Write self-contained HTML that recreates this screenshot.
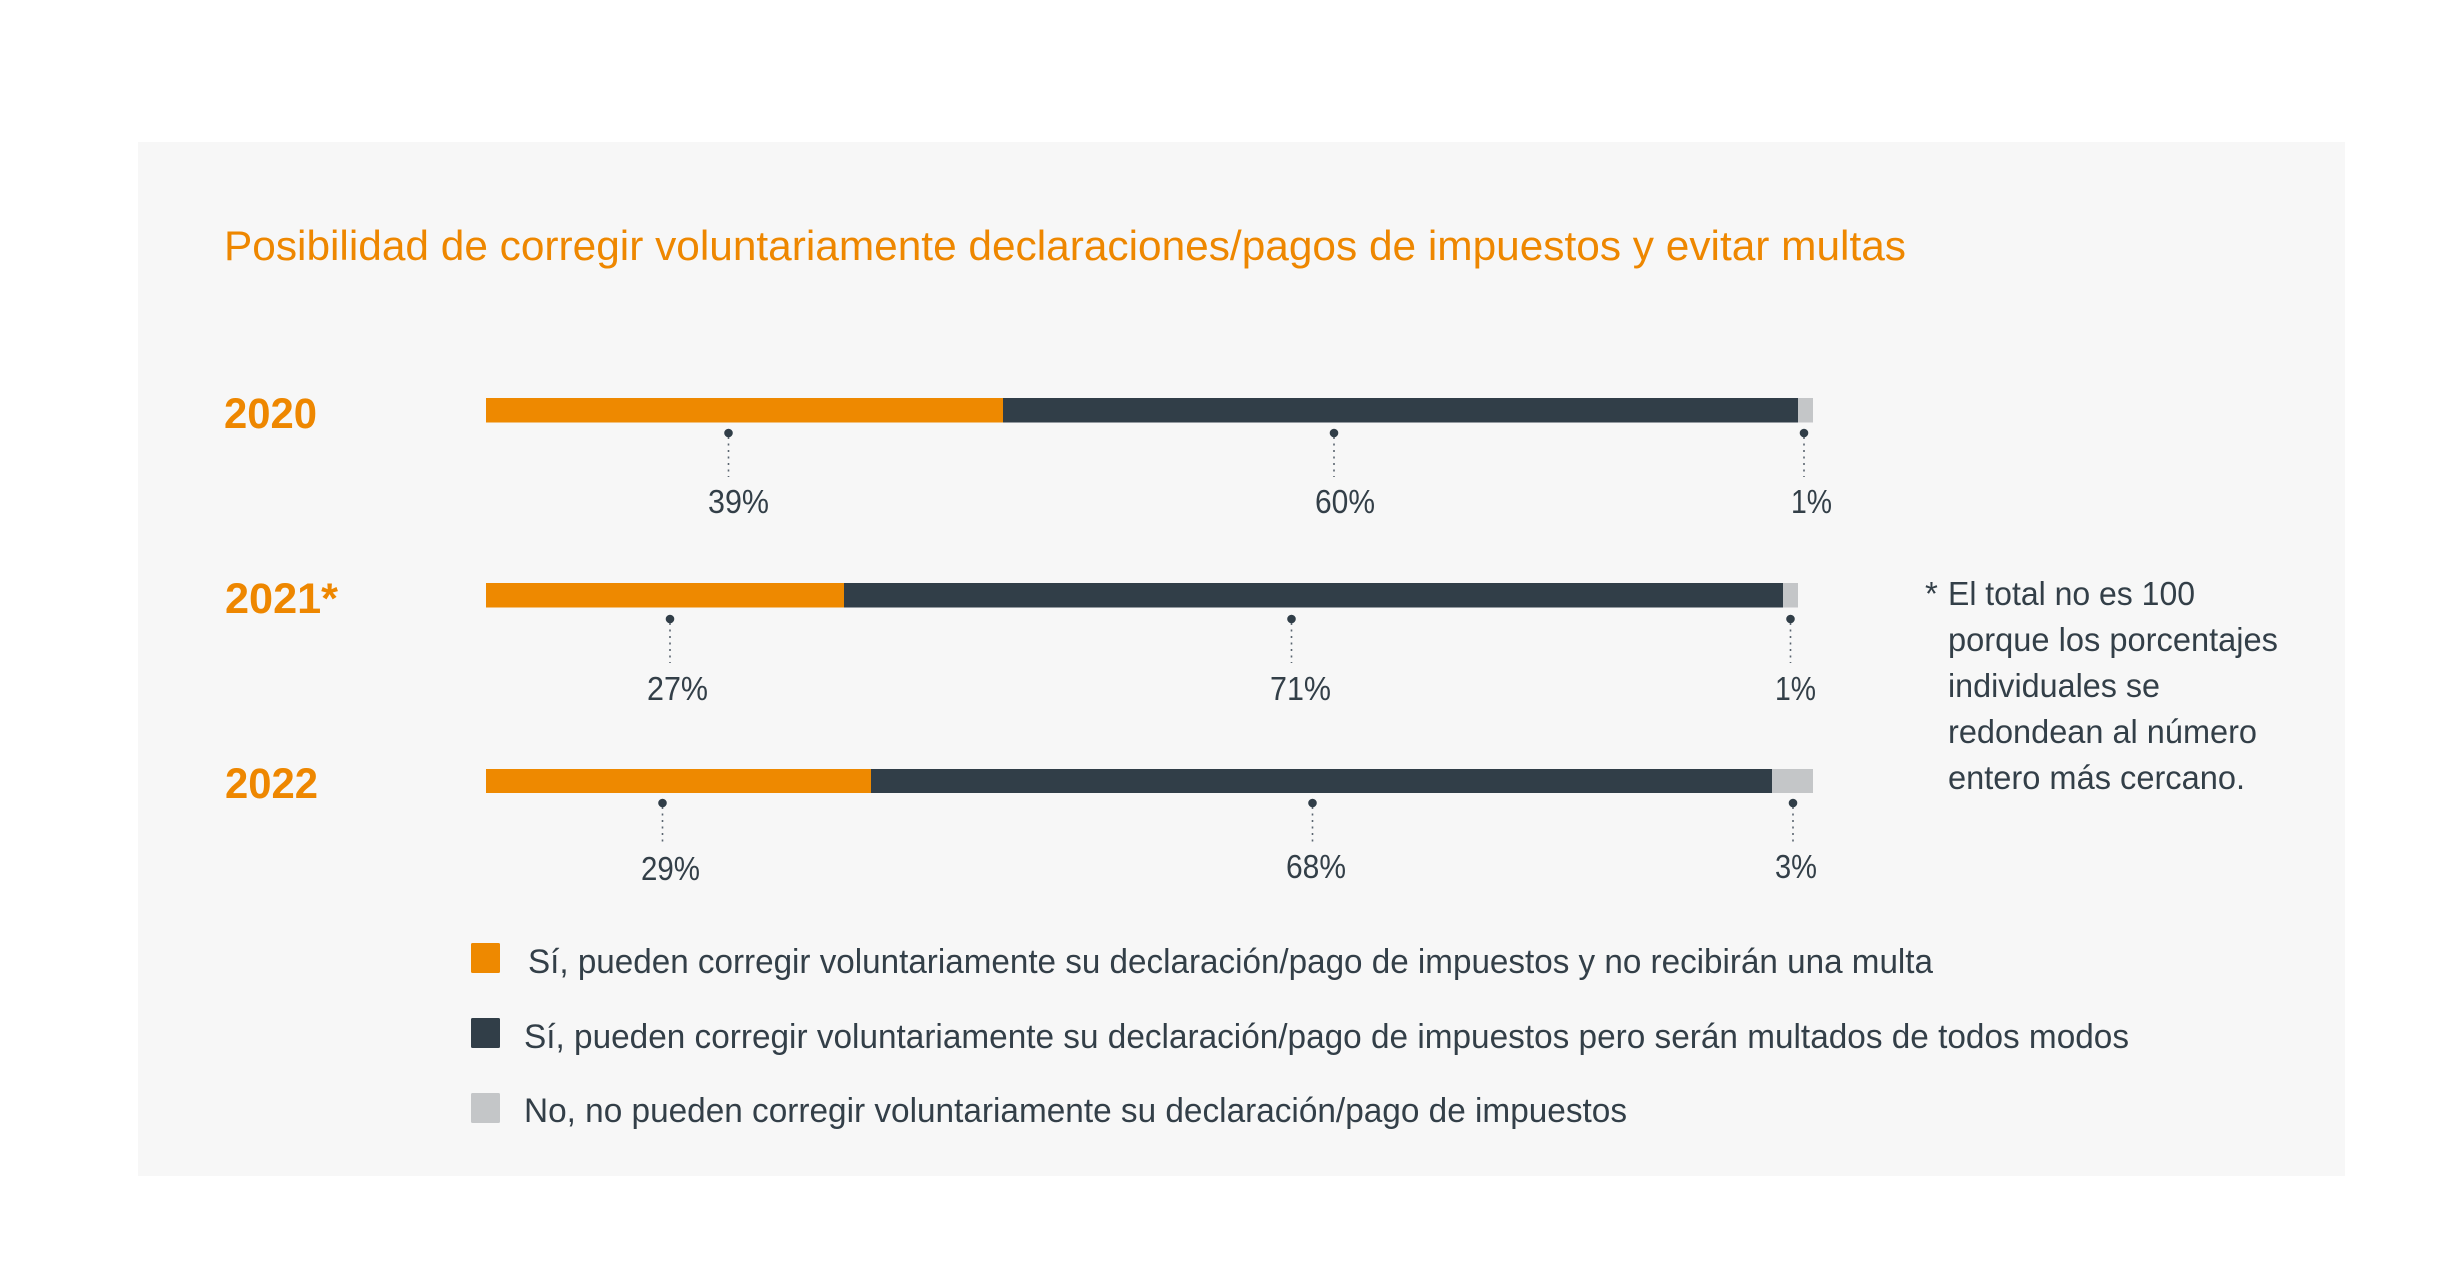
<!DOCTYPE html>
<html>
<head>
<meta charset="utf-8">
<style>
  html,body{margin:0;padding:0;background:#ffffff;}
  svg{display:block;}
  text{font-family:"Liberation Sans",Arial,sans-serif;}
</style>
</head>
<body>
<svg width="2459" height="1280" viewBox="0 0 2459 1280" xmlns="http://www.w3.org/2000/svg">
  <rect x="0" y="0" width="2459" height="1280" fill="#ffffff"/>
  <rect x="138" y="142" width="2207" height="1034" fill="#f7f7f7"/>

  <!-- Title -->
  <text x="224" y="260" font-size="42" fill="#ee8700" textLength="1682" lengthAdjust="spacingAndGlyphs">Posibilidad de corregir voluntariamente declaraciones/pagos de impuestos y evitar multas</text>

  <!-- Year labels -->
  <text x="224" y="428" font-size="43" font-weight="bold" fill="#ee8700" textLength="93" lengthAdjust="spacingAndGlyphs">2020</text>
  <text x="225" y="613" font-size="43" font-weight="bold" fill="#ee8700" textLength="113" lengthAdjust="spacingAndGlyphs">2021*</text>
  <text x="225" y="798" font-size="43" font-weight="bold" fill="#ee8700" textLength="93" lengthAdjust="spacingAndGlyphs">2022</text>

  <!-- Bars 2020 -->
  <rect x="486" y="398" width="517" height="24.5" fill="#ee8900"/>
  <rect x="1003" y="398" width="795" height="24.5" fill="#313e48"/>
  <rect x="1798" y="398" width="15" height="24.5" fill="#c4c6c8"/>
  <!-- Bars 2021 -->
  <rect x="486" y="583" width="358" height="24.5" fill="#ee8900"/>
  <rect x="844" y="583" width="939" height="24.5" fill="#313e48"/>
  <rect x="1783" y="583" width="15" height="24.5" fill="#c4c6c8"/>
  <!-- Bars 2022 -->
  <rect x="486" y="769" width="385" height="24" fill="#ee8900"/>
  <rect x="871" y="769" width="901" height="24" fill="#313e48"/>
  <rect x="1772" y="769" width="41" height="24" fill="#c4c6c8"/>

  <!-- Leader lines -->
  <g stroke="#5a6570" stroke-width="1.6" stroke-dasharray="2 4.5" fill="none">
    <line x1="728.5" y1="437" x2="728.5" y2="477"/>
    <line x1="1334" y1="437" x2="1334" y2="477"/>
    <line x1="1804" y1="437" x2="1804" y2="477"/>
    <line x1="670" y1="623" x2="670" y2="663"/>
    <line x1="1291.5" y1="623" x2="1291.5" y2="663"/>
    <line x1="1790.5" y1="623" x2="1790.5" y2="663"/>
    <line x1="662.5" y1="807" x2="662.5" y2="846"/>
    <line x1="1312.5" y1="807" x2="1312.5" y2="846"/>
    <line x1="1793" y1="807" x2="1793" y2="846"/>
  </g>
  <g fill="#313e48">
    <circle cx="728.5" cy="433" r="4.3"/>
    <circle cx="1334" cy="433" r="4.3"/>
    <circle cx="1804" cy="433" r="4.3"/>
    <circle cx="670" cy="619" r="4.3"/>
    <circle cx="1291.5" cy="619" r="4.3"/>
    <circle cx="1790.5" cy="619" r="4.3"/>
    <circle cx="662.5" cy="803" r="4.3"/>
    <circle cx="1312.5" cy="803" r="4.3"/>
    <circle cx="1793" cy="803" r="4.3"/>
  </g>

  <!-- Percent labels -->
  <g font-size="33" fill="#333f48">
    <text x="708" y="513" textLength="61" lengthAdjust="spacingAndGlyphs">39%</text>
    <text x="1315" y="513" textLength="60" lengthAdjust="spacingAndGlyphs">60%</text>
    <text x="1791" y="513" textLength="41" lengthAdjust="spacingAndGlyphs">1%</text>
    <text x="647" y="700" textLength="61" lengthAdjust="spacingAndGlyphs">27%</text>
    <text x="1270" y="700" textLength="61" lengthAdjust="spacingAndGlyphs">71%</text>
    <text x="1775" y="700" textLength="41" lengthAdjust="spacingAndGlyphs">1%</text>
    <text x="641" y="880" textLength="59" lengthAdjust="spacingAndGlyphs">29%</text>
    <text x="1286" y="878" textLength="60" lengthAdjust="spacingAndGlyphs">68%</text>
    <text x="1775" y="878" textLength="42" lengthAdjust="spacingAndGlyphs">3%</text>
  </g>

  <!-- Footnote -->
  <g font-size="33" fill="#333f48">
    <text x="1925" y="605">*</text>
    <text x="1948" y="605" textLength="247" lengthAdjust="spacingAndGlyphs">El total no es 100</text>
    <text x="1948" y="651" textLength="330" lengthAdjust="spacingAndGlyphs">porque los porcentajes</text>
    <text x="1948" y="697" textLength="212" lengthAdjust="spacingAndGlyphs">individuales se</text>
    <text x="1948" y="743" textLength="309" lengthAdjust="spacingAndGlyphs">redondean al número</text>
    <text x="1948" y="789" textLength="297" lengthAdjust="spacingAndGlyphs">entero más cercano.</text>
  </g>

  <!-- Legend -->
  <rect x="471" y="943" width="29" height="30" rx="1.5" fill="#ee8900"/>
  <rect x="471" y="1018" width="29" height="30" rx="1.5" fill="#313e48"/>
  <rect x="471" y="1093" width="29" height="30" rx="1.5" fill="#c4c6c8"/>
  <g font-size="34" fill="#333f48">
    <text x="528" y="973" textLength="1405" lengthAdjust="spacingAndGlyphs">Sí, pueden corregir voluntariamente su declaración/pago de impuestos y no recibirán una multa</text>
    <text x="524" y="1048" textLength="1605" lengthAdjust="spacingAndGlyphs">Sí, pueden corregir voluntariamente su declaración/pago de impuestos pero serán multados de todos modos</text>
    <text x="524" y="1122" textLength="1103" lengthAdjust="spacingAndGlyphs">No, no pueden corregir voluntariamente su declaración/pago de impuestos</text>
  </g>
</svg>
</body>
</html>
